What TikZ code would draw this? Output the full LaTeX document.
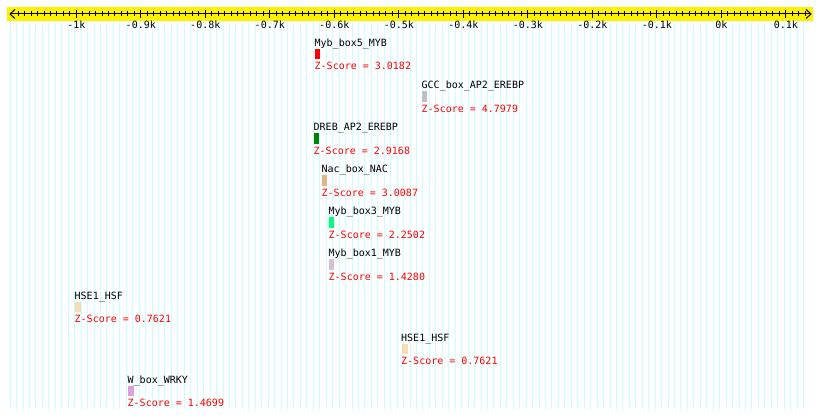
\documentclass[tikz,border=0pt]{standalone}
\usepackage{fontspec}
\setmonofont{DejaVu Sans Mono}
\definecolor{gridcyan}{RGB}{204,255,255}
\definecolor{silverc}{HTML}{C0C0C0}
\definecolor{darkgreenc}{HTML}{008000}
\definecolor{burly}{HTML}{DEB887}
\definecolor{springg}{HTML}{00FF7F}
\definecolor{thistlec}{HTML}{D8BFD8}
\definecolor{wheatc}{HTML}{F5DEB3}
\definecolor{plumc}{HTML}{DDA0DD}
\definecolor{zred}{HTML}{FF0000}
\begin{document}
\begin{tikzpicture}[x=1pt,y=-1pt,
  font=\ttfamily\fontsize{10}{12}\selectfont,
  gridline/.style={draw=gridcyan,line width=1pt},
  axisline/.style={draw=black,line width=1pt},
  ticklbl/.style={anchor=base,inner sep=0pt,text=black},
  motifname/.style={anchor=base west,inner sep=0pt,text=black},
  zscore/.style={anchor=base west,inner sep=0pt,text=zred}]
\useasboundingbox (0,0) rectangle (820,419);
\fill[white] (0,0) rectangle (820,419);
% yellow band
\fill[yellow] (7,7) rectangle (813,21);
\begin{scope}[shift={(721.3pt,0pt)},x=0.645pt]
  \foreach \u in {-1102.5,-1092.5,...,130}
    \draw[gridline] (\u,21) -- (\u,409);
  \foreach \u in {-1090,-1080,...,130}
    \draw[axisline] (\u,11.5) -- (\u,16.5);
  \foreach \u/\t in {-1000/-1k,-900/-0.9k,-800/-0.8k,-700/-0.7k,-600/-0.6k,-500/-0.5k,-400/-0.4k,-300/-0.3k,-200/-0.2k,-100/-0.1k,0/0k,100/0.1k}{
    \draw[axisline] (\u,10) -- (\u,18);
    \node[ticklbl] (lbl\u) at (\u,29) {\t};
  }
\end{scope}
\draw[axisline] (10,14) -- (811,14);
\draw[axisline] (15,9.5) -- (10,14) -- (15,18.5);
\draw[axisline] (806,9.5) -- (811,14) -- (806,18.5);
% motifs: x / row / colour / name / score / width
\foreach \x/\k/\c/\n/\s/\w [count=\i] in {
  315/0/zred/Myb\_box5\_MYB/3.0182/5,
  422/1/silverc/GCC\_box\_AP2\_EREBP/4.7979/5,
  314/2/darkgreenc/DREB\_AP2\_EREBP/2.9168/5,
  322/3/burly/Nac\_box\_NAC/3.0087/5,
  329/4/springg/Myb\_box3\_MYB/2.2502/4.5,
  329/5/thistlec/Myb\_box1\_MYB/1.4280/4.5,
  75/6/wheatc/HSE1\_HSF/0.7621/6,
  401.5/7/wheatc/HSE1\_HSF/0.7621/6,
  128/8/plumc/W\_box\_WRKY/1.4699/5.5}{
  \pgfmathsetmacro{\top}{38.5+42.1*\k}
  \node[motifname] (name\i) at (\x-0.5,\top+8) {\n};
  \fill[\c] (\x,\top+10.5) rectangle ++(\w,10.5);
  \node[zscore] (score\i) at (\x-0.5,\top+31.5) {Z-Score = \s};
}
\end{tikzpicture}
\end{document}
